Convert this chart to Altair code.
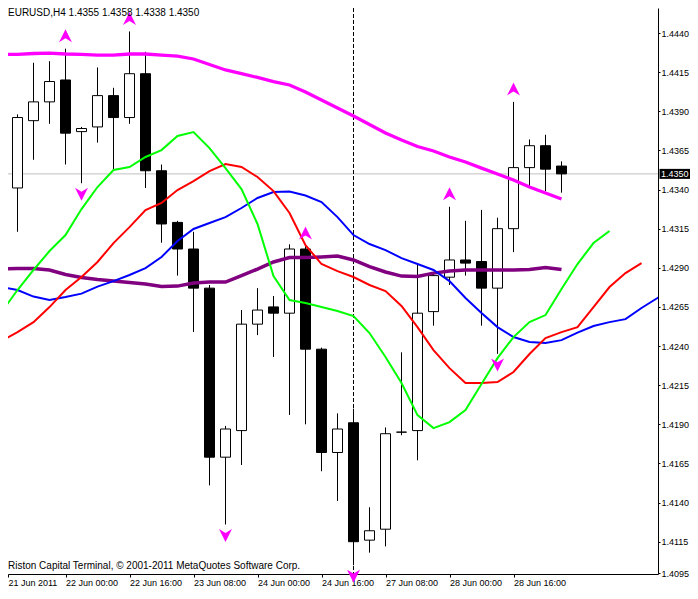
import altair as alt
import pandas as pd

# ---------------- data ----------------
bar_index = list(range(36))
opens = [1.4336, 1.4341, 1.4384, 1.4396, 1.4410, 1.4377, 1.4380, 1.4400, 1.4386, 1.4414,
         1.4352, 1.4319, 1.4302, 1.4277, 1.4169, 1.4186, 1.4254, 1.4265, 1.4261, 1.4302,
         1.4238, 1.4172, 1.4191, 1.4116, 1.4123, 1.4185, 1.4186, 1.4262, 1.4284, 1.4295,
         1.4294, 1.4277, 1.4315, 1.4354, 1.4368, 1.4355]
highs = [1.4377, 1.4388, 1.4421, 1.4422, 1.4430, 1.4380, 1.4418, 1.4405, 1.4441, 1.4428,
         1.4356, 1.4320, 1.4313, 1.4279, 1.4189, 1.4263, 1.4277, 1.4272, 1.4305, 1.4304,
         1.4239, 1.4197, 1.4200, 1.4137, 1.4188, 1.4236, 1.4292, 1.4286, 1.4329, 1.4320,
         1.4327, 1.4322, 1.4396, 1.4372, 1.4375, 1.4358]
lows = [1.4333, 1.4313, 1.4359, 1.4382, 1.4356, 1.4344, 1.4370, 1.4352, 1.4382, 1.4341,
        1.4306, 1.4285, 1.4249, 1.4151, 1.4126, 1.4164, 1.4247, 1.4233, 1.4196, 1.4190,
        1.4160, 1.4141, 1.4100, 1.4108, 1.4112, 1.4183, 1.4167, 1.4253, 1.4279, 1.4285,
        1.4253, 1.4235, 1.4300, 1.4341, 1.4339, 1.4338]
closes = [1.4341, 1.4386, 1.4396, 1.4409, 1.4376, 1.4379, 1.4400, 1.4386, 1.4414, 1.4352,
          1.4318, 1.4302, 1.4277, 1.4169, 1.4187, 1.4254, 1.4263, 1.4261, 1.4302, 1.4238,
          1.4172, 1.4187, 1.4115, 1.4122, 1.4184, 1.4185, 1.4261, 1.4285, 1.4295, 1.4293,
          1.4277, 1.4315, 1.4354, 1.4368, 1.4353, 1.4350]

ma_magenta = [1.44263, 1.44263, 1.44269, 1.44272, 1.44266, 1.44263, 1.44259, 1.44259, 1.44266, 1.44266,
              1.44259, 1.44253, 1.44234, 1.44199, 1.44164, 1.44141, 1.44116, 1.44090, 1.44068, 1.44023,
              1.43972, 1.43921, 1.43870, 1.43815, 1.43761, 1.43716, 1.43675, 1.43646, 1.43608, 1.43576,
              1.43537, 1.43499, 1.43461, 1.43416, 1.43378, 1.43339]
ma_purple = [1.42892, 1.42895, 1.42895, 1.42886, 1.42857, 1.42838, 1.42825, 1.42815, 1.42806, 1.42796,
             1.42780, 1.42783, 1.42803, 1.42809, 1.42809, 1.42850, 1.42892, 1.42937, 1.42965, 1.42965,
             1.42969, 1.42975, 1.42950, 1.42908, 1.42873, 1.42847, 1.42844, 1.42866, 1.42879, 1.42886,
             1.42886, 1.42886, 1.42886, 1.42889, 1.42902, 1.42889]
lips_green = [1.42617, 1.42758, 1.42886, 1.43007, 1.43109, 1.43275, 1.43416, 1.43525, 1.43544, 1.43608,
              1.43652, 1.43742, 1.43767, 1.43665, 1.43537, 1.43403, 1.43180, 1.42847, 1.42694, 1.42675,
              1.42649, 1.42624, 1.42592, 1.42483, 1.42330, 1.42164, 1.41959, 1.41876, 1.41914, 1.41991,
              1.42157, 1.42323, 1.42457, 1.42553, 1.42598, 1.42764, 1.42924, 1.43058, 1.43135]
teeth_red = [1.42432, 1.42489, 1.42553, 1.42649, 1.42758, 1.42841, 1.42937, 1.43058, 1.43160, 1.43269,
             1.43314, 1.43397, 1.43454, 1.43518, 1.43563, 1.43544, 1.43480, 1.43390, 1.43250, 1.43045,
             1.42924, 1.42879, 1.42841, 1.42790, 1.42751, 1.42656, 1.42521, 1.42374, 1.42259, 1.42164,
             1.42164, 1.42170, 1.42234, 1.42349, 1.42451, 1.42489, 1.42521, 1.42649, 1.42777, 1.42866,
             1.42930]
jaw_blue = [1.42777, 1.42758, 1.42716, 1.42694, 1.42713, 1.42735, 1.42780, 1.42815, 1.42854, 1.42898,
            1.42969, 1.43071, 1.43148, 1.43186, 1.43224, 1.43282, 1.43346, 1.43384, 1.43387, 1.43362,
            1.43320, 1.43224, 1.43109, 1.43052, 1.43013, 1.42962, 1.42924, 1.42886, 1.42815, 1.42707,
            1.42611, 1.42521, 1.42458, 1.42426, 1.42419, 1.42438, 1.42486, 1.42528, 1.42553, 1.42572,
            1.42643, 1.42707, 1.42777, 1.42847]

up_fractals = [4, 8, 19, 28, 32]
down_fractals = [5, 14, 22, 31]
week_separator = [22]

x_tick_labels = ["21 Jun 2011", "22 Jun 00:00", "22 Jun 16:00", "23 Jun 08:00", "24 Jun 00:00",
                 "24 Jun 16:00", "27 Jun 08:00", "28 Jun 00:00", "28 Jun 16:00"]
y_tick_values = [1.4440, 1.4415, 1.4390, 1.4365, 1.4340, 1.4315, 1.4290, 1.4265, 1.4240,
                 1.4215, 1.4190, 1.4165, 1.4140, 1.4115, 1.4095]
symbol = "EURUSD,H4"
copyright_text = "Riston Capital Terminal, \u00a9 2001-2011 MetaQuotes Software Corp."

# ---------------- layout ----------------
W, H = 650, 566
X_MIN = 0.40625
X_DOMAIN = [X_MIN, X_MIN + W / 16.0]
Y_DOMAIN = [1.409437, 1.445598]
FONT = "Liberation Sans"

xs = alt.Scale(domain=X_DOMAIN, nice=False, zero=False)
ys = alt.Scale(domain=Y_DOMAIN, nice=False, zero=False)

label_arr = "[" + ",".join("'%s'" % s for s in x_tick_labels) + "]"
x_axis = alt.Axis(values=[X_MIN] + [4 * k for k in range(1, len(x_tick_labels))],
                  labelExpr=label_arr + "[round(datum.value/4)]",
                  labelAlign="left", labelBaseline="top", labelPadding=1, tickSize=3,
                  tickColor="black", domainColor="black", labelColor="black",
                  labelFont=FONT, labelFontSize=9, labelFlush=False, labelOverlap=False,
                  grid=False, title=None)
y_axis = alt.Axis(orient="right", values=y_tick_values, format=".4f", tickSize=2,
                  tickColor="black", domainColor="black", labelColor="black",
                  labelFont=FONT, labelFontSize=9, labelPadding=1, labelOverlap=False,
                  labelFlush=False, grid=False, title=None)


def X(field):
    return alt.X(field, scale=xs, axis=x_axis)


def Y(field):
    return alt.Y(field, scale=ys, axis=y_axis)


candles = pd.DataFrame({"i": bar_index, "open": opens, "high": highs,
                        "low": lows, "close": closes})
candles["dir"] = ["up" if c >= o else "down" for o, c in zip(opens, closes)]

price_line = pd.DataFrame({"price": [closes[-1]],
                           "label": ["%.4f" % closes[-1]]})
title_df = pd.DataFrame({"t": ["%s  %.4f %.4f %.4f %.4f" % (symbol, opens[-1], highs[-1], lows[-1], closes[-1])]})
copy_df = pd.DataFrame({"t": [copyright_text]})

base = alt.Chart(candles)

price_rule = alt.Chart(price_line).mark_rule(color="#C0C0C0", strokeWidth=1).encode(
    y=Y("price:Q"))

sep_rule = alt.Chart(pd.DataFrame({"i": week_separator})).mark_rule(
    color="black", strokeWidth=1, strokeDash=[4, 2]).encode(x=X("i:Q"))

wicks = base.mark_rule(color="black", strokeWidth=1).encode(
    x=X("i:Q"), y=Y("low:Q"), y2="high:Q")

bodies = base.transform_calculate(
    xl="datum.i - 0.3125", xr="datum.i + 0.3125"
).mark_rect(stroke="black", strokeWidth=1).encode(
    x=X("xl:Q"), x2="xr:Q",
    y=Y("open:Q"), y2="close:Q",
    fill=alt.Fill("dir:N", scale=alt.Scale(domain=["up", "down"], range=["white", "black"]),
                  legend=None))


def line_layer(values, color, width):
    df = pd.DataFrame({"i": list(range(len(values))), "v": values})
    return alt.Chart(df).mark_line(color=color, strokeWidth=width, clip=True).encode(
        x=X("i:Q"), y=Y("v:Q"))


UP_PATH = "M0,-0.75L0.75,0.75L0,0.3L-0.75,0.75Z"
DOWN_PATH = "M0,0.75L0.75,-0.75L0,-0.3L-0.75,-0.75Z"

up_df = pd.DataFrame({"i": up_fractals, "p": [highs[k] for k in up_fractals]})
dn_df = pd.DataFrame({"i": down_fractals, "p": [lows[k] for k in down_fractals]})

up_arrows = alt.Chart(up_df).mark_point(shape=UP_PATH, filled=True, size=300, color="#FF00FF",
                                        opacity=1, strokeWidth=0, yOffset=-13).encode(
    x=X("i:Q"), y=Y("p:Q"))
dn_arrows = alt.Chart(dn_df).mark_point(shape=DOWN_PATH, filled=True, size=300, color="#FF00FF",
                                        opacity=1, strokeWidth=0, yOffset=11).encode(
    x=X("i:Q"), y=Y("p:Q"))

price_box = alt.Chart(price_line).mark_tick(color="black", size=31, thickness=10, opacity=1).encode(
    x=alt.value(W + 17), y=Y("price:Q"))
price_txt = alt.Chart(price_line).mark_text(color="white", font=FONT, fontSize=9, align="left",
                                            baseline="middle").encode(
    x=alt.value(W + 3), y=Y("price:Q"), text="label:N")

title_txt = alt.Chart(title_df).mark_text(font=FONT, fontSize=10, align="left", baseline="top",
                                          color="black").encode(
    x=alt.value(0), y=alt.value(0), text="t:N")
copy_txt = alt.Chart(copy_df).mark_text(font=FONT, fontSize=10, align="left", baseline="middle",
                                        color="black").encode(
    x=alt.value(0), y=alt.value(H - 8), text="t:N")

chart = alt.layer(
    price_rule, sep_rule, wicks, bodies,
    line_layer(ma_magenta, "#FF00FF", 3.3),
    line_layer(ma_purple, "#800080", 3.5),
    line_layer(jaw_blue, "#0000FF", 2),
    line_layer(teeth_red, "#FF0000", 2),
    line_layer(lips_green, "#00FF00", 2),
    up_arrows, dn_arrows, price_box, price_txt, title_txt, copy_txt
).properties(
    width=W, height=H,
    autosize=alt.AutoSizeParams(type="none"),
    padding={"left": 0, "top": 0, "right": 32, "bottom": 12},
    background="white"
).configure_view(strokeWidth=0)

chart.save("out.html", embed_options={"renderer": "svg", "actions": False})
